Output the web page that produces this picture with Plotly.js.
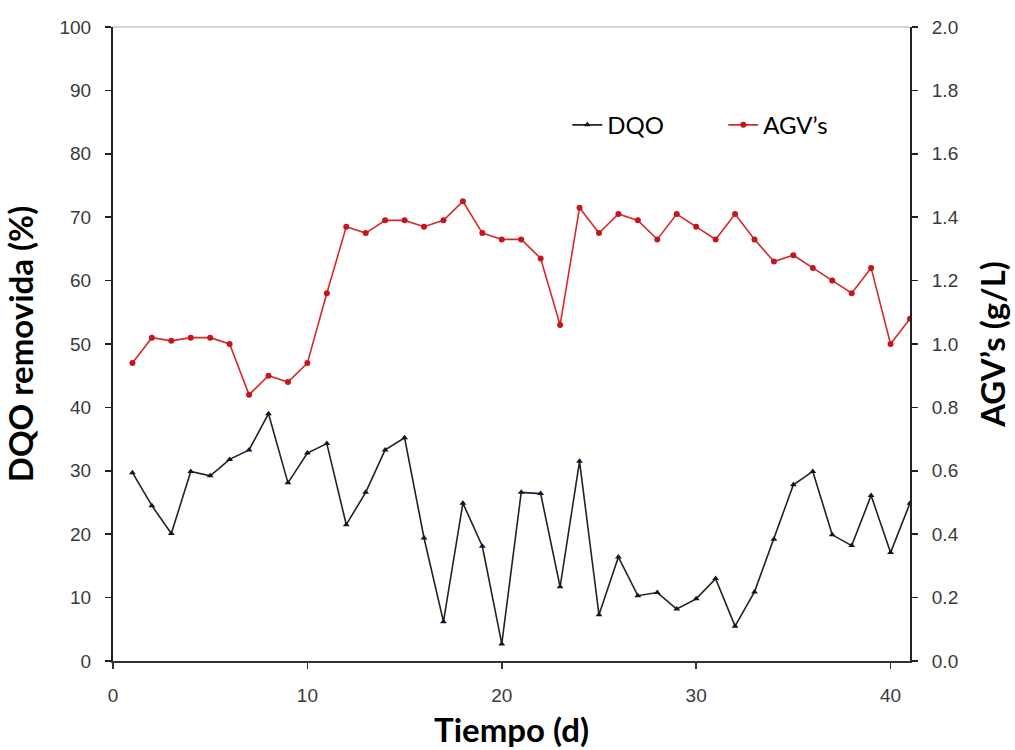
<!DOCTYPE html>
<html>
<head>
<meta charset="utf-8">
<script src="https://cdn.plot.ly/plotly-3.0.1.min.js"></script>
<style>html,body{margin:0;padding:0;background:#fff}#chart{width:1015px;height:750px}</style>
</head>
<body>
<div id="chart"></div>
<script>
const dias = [1,2,3,4,5,6,7,8,9,10,11,12,13,14,15,16,17,18,19,20,21,22,23,24,25,26,27,28,29,30,31,32,33,34,35,36,37,38,39,40,41];
const dqo = [29.7,24.5,20.1,29.9,29.2,31.8,33.3,39.0,28.1,32.8,34.3,21.5,26.6,33.3,35.2,19.4,6.2,24.9,18.1,2.7,26.6,26.4,11.7,31.5,7.3,16.4,10.3,10.8,8.2,9.8,13.0,5.5,10.9,19.2,27.8,29.9,19.9,18.2,26.1,17.1,24.9];
const agv = [0.94,1.02,1.01,1.02,1.02,1.00,0.84,0.90,0.88,0.94,1.16,1.37,1.35,1.39,1.39,1.37,1.39,1.45,1.35,1.33,1.33,1.27,1.06,1.43,1.35,1.41,1.39,1.33,1.41,1.37,1.33,1.41,1.33,1.26,1.28,1.24,1.20,1.16,1.24,1.00,1.08];
const xTicks = [0,10,20,30,40];
const yTicks = [0,10,20,30,40,50,60,70,80,90,100];
const y2Ticks = [0,0.2,0.4,0.6,0.8,1.0,1.2,1.4,1.6,1.8,2.0];

const tickFont = {family: 'Liberation Sans Narrow, Liberation Sans, Arial, sans-serif', size: 19, color: '#3a3a3a'};
const titleFont = {family: 'Lato, Open Sans, sans-serif', size: 33, color: '#000', weight: 'bold'};

const traces = [
  {x: dias, y: dqo, name: 'DQO', type: 'scatter', mode: 'lines+markers',
   line: {color: '#222222', width: 1.6},
   marker: {symbol: 'triangle-up', size: 6, color: '#111133'}},
  {x: dias, y: agv, name: 'AGV\u2019s', type: 'scatter', mode: 'lines+markers', yaxis: 'y2',
   line: {color: '#d42a2a', width: 1.6},
   marker: {symbol: 'circle', size: 6, color: '#c4161c'}}
];

const layout = {
  width: 1015, height: 750,
  margin: {l: 113, r: 105, t: 27, b: 89},
  paper_bgcolor: '#fff', plot_bgcolor: '#fff',
  showlegend: true,
  legend: {orientation: 'h', x: 0.57, y: 0.845, xanchor: 'left', yanchor: 'middle',
           font: {family: 'Lato, Open Sans, sans-serif', size: 24, color: '#000'},
           bgcolor: 'rgba(0,0,0,0)', entrywidth: 111, entrywidthmode: 'pixels', itemwidth: 30},
  xaxis: {range: [0, 41], tickvals: xTicks, ticktext: xTicks.map(String),
          showgrid: false, zeroline: false, showline: true, linecolor: '#333', linewidth: 2,
          ticks: 'outside', ticklen: 6, tickcolor: '#333', tickwidth: 1.5, tickfont: tickFont,
          ticklabelstandoff: 10,
          title: {text: 'Tiempo (d)', font: titleFont, standoff: 14}},
  yaxis: {range: [0, 100], tickvals: yTicks, ticktext: yTicks.map(String),
          showgrid: false, zeroline: false, showline: true, linecolor: '#222', linewidth: 2,
          ticks: 'outside', ticklen: 6, tickcolor: '#222', tickwidth: 1.5, tickfont: tickFont,
          ticklabelstandoff: 10,
          title: {text: 'DQO removida (%)', font: titleFont, standoff: 16}},
  yaxis2: {range: [0, 2], overlaying: 'y', side: 'right', tickvals: y2Ticks,
           ticktext: y2Ticks.map(v => v.toFixed(1)),
           showgrid: false, zeroline: false, showline: true, linecolor: '#222', linewidth: 2,
           ticks: 'outside', ticklen: 6, tickcolor: '#222', tickwidth: 1.5, tickfont: tickFont,
           ticklabelstandoff: 10,
           title: {text: 'AGV\u2019s (g/L)', font: titleFont, standoff: 24}},
  shapes: [{type: 'line', xref: 'paper', yref: 'paper', x0: 0, x1: 1, y0: 1, y1: 1,
            line: {color: '#d4d4d4', width: 2}}]
};

Plotly.newPlot('chart', traces, layout, {displayModeBar: false, staticPlot: true});
</script>
</body>
</html>
